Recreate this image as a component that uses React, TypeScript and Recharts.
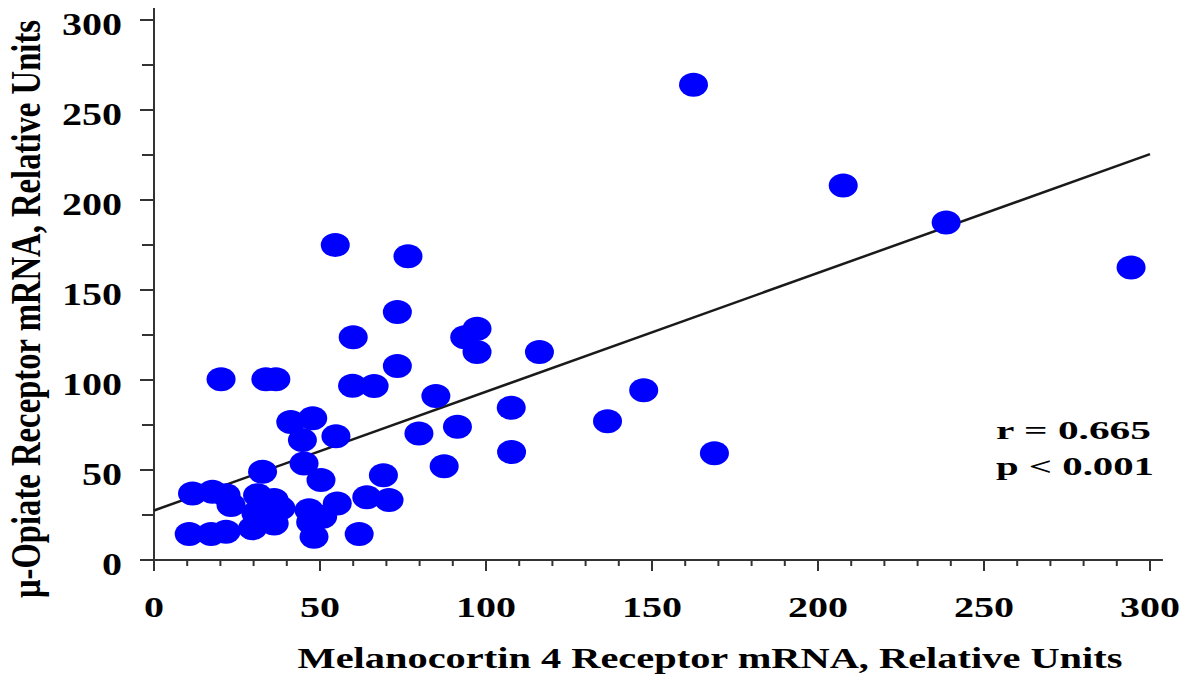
import { ScatterChart, Scatter, XAxis, YAxis, ReferenceLine } from "recharts";

// MC4R mRNA (x) and MOR mRNA (y), relative units
const mc4r = [
  162.5, 207.6, 238.6, 294.3, 168.8, 147.5, 136.6, 116.1, 107.6, 107.7,
  97.3, 97.3, 93.6, 91.4, 87.4, 84.9, 79.8, 76.5, 73.3, 73.3,
  70.8, 69.1, 66.3, 64.1, 61.8, 60.0, 59.8, 54.6, 55.2, 54.8,
  50.3, 47.8, 48.2, 50.8, 46.7, 47.2, 44.7, 45.2, 41.2, 36.7,
  33.7, 20.2, 32.7, 38.2, 36.2, 36.2, 34.2, 31.2, 30.7, 29.7,
  23.2, 21.7, 17.6, 11.6, 21.7, 17.2, 10.6,
];
const mor = [
  264, 208, 187.5, 162.5, 59.3, 94.3, 77.1, 115.5, 84.6, 60,
  128.5, 115.5, 123.8, 74, 52.1, 91.1, 70.3, 168.7, 137.8, 107.8,
  33.3, 47.1, 96.7, 34.8, 14.4, 123.8, 96.8, 175, 31.4, 68.8,
  44.4, 78.8, 12.9, 24, 27.7, 21, 66.6, 53.6, 76.7, 100.4,
  100.4, 100.4, 49, 28.7, 33.3, 20.3, 24, 36, 26, 17.6,
  30.5, 36, 37.9, 37, 15.7, 14.4, 14.4,
];

// regression line end points
const fitX = [0, 300];
const fitY = [27.5, 225.5];

const xTicks = [
  0, 10, 20, 30, 40, 50, 60, 70, 80, 90, 100, 110, 120, 130, 140, 150,
  160, 170, 180, 190, 200, 210, 220, 230, 240, 250, 260, 270, 280, 290, 300,
];
const yTicks = [0, 25, 50, 75, 100, 125, 150, 175, 200, 225, 250, 275, 300];

const points = mc4r.map((x, i) => ({ x, y: mor[i] }));

const FONT = "'Liberation Serif', 'Times New Roman', serif";
const AXIS = "#333";

const XTick = ({ x, y, payload }: any) => {
  const v = payload.value;
  const major = v % 50 === 0;
  const s = String(v);
  return (
    <g>
      <line x1={x} x2={x} y1={y} y2={y + (major ? 11 : 6)} stroke={AXIS} strokeWidth={2} />
      {major && (
        <text
          x={x}
          y={y + 57}
          textAnchor="middle"
          fontFamily={FONT}
          fontWeight="bold"
          fontSize={30}
          fill="#000"
          textLength={s.length * 20}
          lengthAdjust="spacingAndGlyphs"
        >
          {s}
        </text>
      )}
    </g>
  );
};

const YTick = ({ x, y, payload }: any) => {
  const v = payload.value;
  const major = v % 50 === 0;
  const s = String(v);
  return (
    <g>
      <line x1={x - (major ? 14 : 12)} x2={x} y1={y} y2={y} stroke={AXIS} strokeWidth={2} />
      {major && (
        <text
          x={x - 32}
          y={y + 15}
          textAnchor="end"
          fontFamily={FONT}
          fontWeight="bold"
          fontSize={32}
          fill="#000"
          textLength={s.length * 20}
          lengthAdjust="spacingAndGlyphs"
        >
          {s}
        </text>
      )}
    </g>
  );
};

const XTitle = () => (
  <text
    x={710}
    y={668}
    textAnchor="middle"
    fontFamily={FONT}
    fontWeight="bold"
    fontSize={30}
    fill="#000"
    textLength={825}
    lengthAdjust="spacingAndGlyphs"
  >
    Melanocortin 4 Receptor mRNA, Relative Units
  </text>
);

const YTitle = () => (
  <text
    transform="translate(40,309) scale(1.3,1) rotate(-90)"
    textAnchor="middle"
    fontFamily={FONT}
    fontWeight="bold"
    fontSize={32}
    fill="#000"
    textLength={578}
    lengthAdjust="spacingAndGlyphs"
  >
    μ-Opiate Receptor mRNA, Relative Units
  </text>
);

const Stats = () => (
  <g fontFamily={FONT} fontWeight="bold" fontSize={25} fill="#000">
    <text x={996} y={439} textLength={155} lengthAdjust="spacingAndGlyphs">
      r = 0.665
    </text>
    <text x={996} y={475} textLength={158} lengthAdjust="spacingAndGlyphs">
      p &lt; 0.001
    </text>
  </g>
);

const Dot = (p: any) => <ellipse cx={p.cx} cy={p.cy} rx={14.5} ry={12} fill="#0000ff" />;

export default function App() {
  return (
    <div style={{ position: "absolute", left: 0, top: 0, background: "#fff" }}>
      <ScatterChart width={1190} height={681} margin={{ top: 20, right: 40, bottom: 61, left: 94 }}>
        <XAxis
          type="number"
          dataKey="x"
          domain={[0, 300]}
          ticks={xTicks}
          interval={0}
          height={60}
          axisLine={false}
          tickLine={false}
          tickSize={0}
          tickMargin={0}
          tick={<XTick />}
          label={<XTitle />}
        />
        <YAxis
          type="number"
          dataKey="y"
          domain={[0, 300]}
          ticks={yTicks}
          interval={0}
          width={60}
          axisLine={false}
          tickLine={false}
          tickSize={0}
          tickMargin={0}
          tick={<YTick />}
          label={<YTitle />}
        />
        <ReferenceLine
          segment={[{ x: 0, y: -5.5 }, { x: 0, y: 306.7 }]}
          ifOverflow="visible"
          stroke={AXIS}
          strokeWidth={2}
        />
        <ReferenceLine
          segment={[{ x: -4.2, y: 0 }, { x: 303.9, y: 0 }]}
          ifOverflow="visible"
          stroke={AXIS}
          strokeWidth={2}
        />
        <Scatter data={points} shape={<Dot />} isAnimationActive={false} />
        <ReferenceLine
          segment={[{ x: fitX[0], y: fitY[0] }, { x: fitX[1], y: fitY[1] }]}
          ifOverflow="visible"
          stroke="#1a1a1a"
          strokeWidth={2.5}
          label={<Stats />}
        />
      </ScatterChart>
    </div>
  );
}
